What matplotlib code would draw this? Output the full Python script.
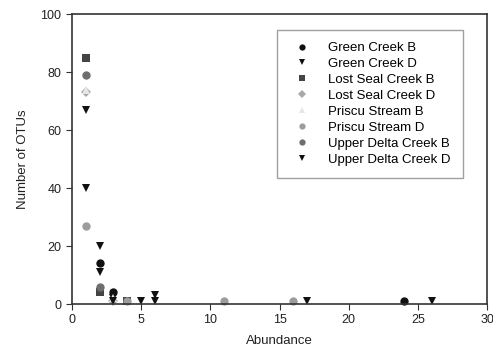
import matplotlib
matplotlib.use("Agg")
import matplotlib.pyplot as plt

plt.rcParams['font.family'] = ['Liberation Sans', 'DejaVu Sans']

# data (abundance, number of OTUs)
gc_b_x = [2, 3, 24]
gc_b_y = [14, 4, 1]
gc_d_x = [1, 2, 3, 6, 26]
gc_d_y = [67, 11, 2, 3, 1]
ls_b_x = [1, 2, 4]
ls_b_y = [85, 4, 1]
ls_d_x = [1, 3]
ls_d_y = [73, 1]
ps_b_x = [1, 3]
ps_b_y = [74, 2]
ps_d_x = [1, 4, 11, 16]
ps_d_y = [27, 1, 1, 1]
ud_b_x = [1, 2]
ud_b_y = [79, 6]
ud_d_x = [1, 2, 3, 5, 6, 17]
ud_d_y = [40, 20, 1, 1, 1, 1]

series = [
    ("Green Creek B", gc_b_x, gc_b_y, "o", "#111111"),
    ("Green Creek D", gc_d_x, gc_d_y, "v", "#111111"),
    ("Lost Seal Creek B", ls_b_x, ls_b_y, "s", "#444444"),
    ("Lost Seal Creek D", ls_d_x, ls_d_y, "D", "#a8a8a8"),
    ("Priscu Stream B", ps_b_x, ps_b_y, "^", "#e6e6e6"),
    ("Priscu Stream D", ps_d_x, ps_d_y, "o", "#9c9c9c"),
    ("Upper Delta Creek B", ud_b_x, ud_b_y, "o", "#6e6e6e"),
    ("Upper Delta Creek D", ud_d_x, ud_d_y, "v", "#111111"),
]

fig = plt.figure(figsize=(4.93, 3.62), dpi=100)
ax = fig.add_axes([0.146, 0.160, 0.842, 0.801])

for name, x, y, m, c in series:
    ms = 5 if m == "D" else 6
    ax.plot(x, y, linestyle="none", marker=m, color=c, markersize=ms,
            markeredgewidth=0, label=name, clip_on=False)

ax.set_xlim(0, 30)
ax.set_ylim(0, 100)
ax.set_xticks([0, 5, 10, 15, 20, 25, 30])
ax.set_yticks([0, 20, 40, 60, 80, 100])
ax.tick_params(direction="out", length=4, labelsize=9, color="#333333", labelcolor="#222222")
for s in ax.spines.values():
    s.set_linewidth(1.2)
    s.set_color("#333333")

ax.set_xlabel("Abundance", fontsize=9.5, color="#222222", labelpad=6)
ax.set_ylabel("Number of OTUs", fontsize=9.5, color="#222222", labelpad=8)

leg = ax.legend(loc="upper left", bbox_to_anchor=(0.494, 0.945), fontsize=9.5,
                frameon=True, fancybox=False, edgecolor="#888888",
                borderpad=0.9, handletextpad=1.0, labelspacing=0.28,
                markerscale=0.75, borderaxespad=0)
leg.get_frame().set_linewidth(1.0)

fig.savefig("out.png", dpi=100)
